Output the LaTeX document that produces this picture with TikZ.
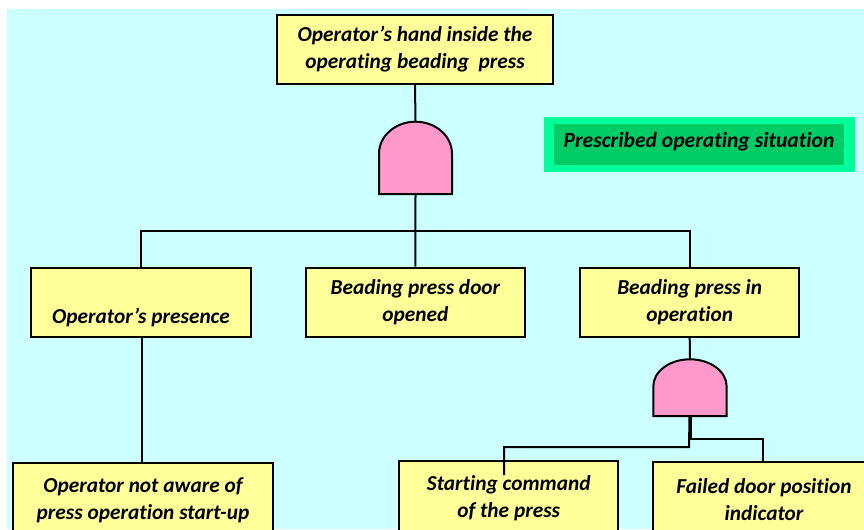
\documentclass[tikz,border=0pt]{standalone}
\usepackage{fontspec}
\setmainfont[Ligatures=NoCommon]{Carlito}
\definecolor{bgcyan}{HTML}{CCFFFF}
\definecolor{boxyellow}{HTML}{FFFF99}
\definecolor{gatepink}{HTML}{FF99CC}
\definecolor{greenout}{HTML}{00FF99}
\definecolor{greenin}{HTML}{00CC66}
\tikzset{
  event/.style={draw=black, line width=1.5pt, fill=boxyellow, align=center,
    font=\bfseries\itshape\fontsize{16}{20.25}\selectfont, inner sep=0pt},
  gate/.style={draw=black, line width=1.5pt, fill=gatepink},
  link/.style={draw=black, line width=1.5pt},
}
\begin{document}
\begin{tikzpicture}[x=0.75pt,y=-0.75pt]
\useasboundingbox (0,0) rectangle (864,529);
\clip (0,0) rectangle (864,529);
\fill[bgcyan] (7,9) rectangle (864,529);

% legend box
\fill[greenout] (544,116.7) rectangle (855,171.7);
\node[fill=greenin, minimum width=217.5pt, minimum height=30.75pt, inner sep=0pt,
  font=\bfseries\itshape\fontsize{16.2}{18}\selectfont] (legend) at (699,144.5)
  {\raisebox{6.5pt}{Prescribed operating situation}};

% events
\node[event, minimum width=207pt, minimum height=51.75pt] (top) at (415,49.5)
  {Operator’s hand inside the\\operating beading\ \ press};
\node[event, minimum width=165pt, minimum height=51.75pt] (pres) at (141,302.2)
  {\strut\\Operator’s presence};
\node[event, minimum width=164.5pt, minimum height=51.75pt] (door) at (415.4,302.2)
  {Beading press door\\opened};
\node[event, minimum width=164.5pt, minimum height=51.75pt] (oper) at (689.7,302.2)
  {Beading press in\\operation};
\node[event, minimum width=194.5pt, minimum height=56.25pt] (aware) at (143,500)
  {Operator not aware of\\press operation start-up};
\node[event, minimum width=164.5pt, minimum height=56.25pt] (start) at (508.7,498)
  {Starting command\\of the press};
\node[event, minimum width=166pt, minimum height=56.25pt] (failed) at (764,499.5)
  {Failed door position\\indicator};

% AND gates
\coordinate (g1in) at (415.5,121.7);
\coordinate (g1out) at (415.5,194);
\draw[gate] (379,194) -- (379,153.7)
  arc[start angle=180, end angle=0, x radius=27.375pt, y radius=24pt]
  -- (452,194) -- cycle;
\coordinate (g2in) at (690,359.3);
\coordinate (g2out) at (689.5,416);
\draw[gate] (653.3,416) -- (653.3,386.3)
  arc[start angle=180, end angle=0, x radius=27.5pt, y radius=20.25pt]
  -- (726.7,416) -- cycle;

% connectors
\coordinate (bus) at (415.5,231);
\draw[link] (top.south) -- (g1in);
\draw[link] (g1out) -- (door.north);
\draw[link] (pres.north) -- (pres.north |- bus) -- (oper.north |- bus) -- (oper.north);
\draw[link] (142,336.7) -- (142,462.7);
\draw[link] (oper.south) -- (g2in);
\coordinate (stin) at (504,475);
\draw[link] (g2out) -- (689,447) -- (504,447) -- (stin);
\draw[link] (690.5,416) -- (690.5,439) -- (762.7,439) -- (762.7,461.6);
\end{tikzpicture}
\end{document}
